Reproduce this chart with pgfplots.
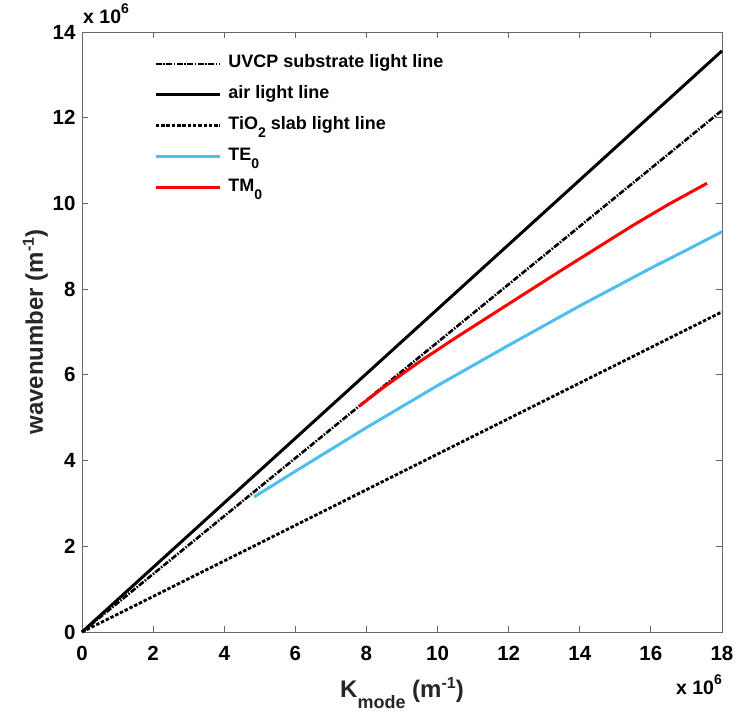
\documentclass[border=0pt]{standalone}
\usepackage{fontspec}
\setmainfont{Liberation Sans}
\usepackage{pgfplots}
\pgfplotsset{compat=1.18}
\definecolor{teblue}{RGB}{77,190,238}
\newcommand\lsub[1]{\raisebox{-8pt}{\fontsize{14}{14}\selectfont #1}}
\newcommand\labsup[1]{\raisebox{9pt}{\fontsize{16}{16}\selectfont #1}}
\newcommand\labsub[1]{\raisebox{-11pt}{\fontsize{18}{18}\selectfont #1}}
\newcommand\mulsup[1]{\raisebox{10pt}{\fontsize{14}{14}\selectfont #1}}
\begin{document}
\begin{tikzpicture}
\useasboundingbox (-82pt,-83pt) rectangle (655pt,632pt);
\begin{axis}[
  scale only axis,
  width=640pt, height=600pt,
  xmin=0, xmax=18, ymin=0, ymax=14,
  xtick={0,2,...,18}, ytick={0,2,...,14},
  tick align=inside,
  major tick length=6pt,
  axis line style={black!60, line width=0.8pt},
  every tick/.style={black!60, line width=0.8pt},
  /pgf/number format/assume math mode=true,
  tick label style={font=\bfseries\fontsize{20.5}{20.5}\selectfont, black},
  xticklabel style={yshift=-11pt},
  yticklabel style={xshift=-3pt},
  label style={font=\bfseries\fontsize{24}{24}\selectfont, black!85},
  xlabel={K\labsub{mode} (m\labsup{-1})},
  ylabel={wavenumber (m\labsup{-1})},
  xlabel style={at={(rel axis cs:0.5,0)}, anchor=base, yshift=-66pt},
  ylabel style={at={(rel axis cs:0,0.5)}, anchor=base, yshift=39pt},
  clip=false,
  legend cell align=left,
  legend image code/.code={\draw[#1] (0pt,0pt) -- (64pt,0pt);},
  legend style={draw=none, fill=none, inner sep=0pt, at={(axis cs:2.03,13.53)}, anchor=north west,
    font=\bfseries\fontsize{18}{18}\selectfont, row sep=8pt,
    nodes={inner sep=2pt, text height=13pt, text depth=6pt},
    /tikz/every odd column/.append style={column sep=5pt},
    /tikz/every even column/.append style={column sep=0pt}},
]
\addplot[black, line width=2.6pt, dash pattern=on 6pt off 1.5pt on 1.5pt off 1.5pt] coordinates {(0,0) (18,12.17)};
\addlegendentry{UVCP substrate light line}
\addplot[black, line width=3pt] coordinates {(0,0) (18,13.56)};
\addlegendentry{air light line}
\addplot[black, line width=2.8pt, dash pattern=on 3.5pt off 1.8pt] coordinates {(0,0) (18,7.47)};
\addlegendentry{TiO\lsub{2} slab light line}
\addplot[teblue, line width=3pt] coordinates {
(4.84,3.15) (6,3.75) (7,4.26) (8,4.77) (9,5.26) (10,5.75) (11,6.22) (12,6.69) (13,7.15) (14,7.61) (15,8.05) (16,8.49) (17,8.91) (18,9.34)};
\addlegendentry{TE\lsub{0}}
\addplot[red, line width=3pt] coordinates {
(7.8,5.27) (8.5,5.72) (9.5,6.31) (10.5,6.86) (11.5,7.39) (12.5,7.92) (13.5,8.45) (14.5,8.97) (15.5,9.49) (16.5,9.98) (17.58,10.47)};
\addlegendentry{TM\lsub{0}}
\node[anchor=base west, font=\bfseries\fontsize{19.5}{19.5}\selectfont, inner sep=0pt] at (rel axis cs:0,1) [xshift=1pt, yshift=8pt] {x 10\mulsup{6}};
\node[anchor=base east, font=\bfseries\fontsize{19.5}{19.5}\selectfont, inner sep=0pt] at (rel axis cs:1,0) [yshift=-63pt] {x 10\mulsup{6}};
\end{axis}
\end{tikzpicture}
\end{document}
